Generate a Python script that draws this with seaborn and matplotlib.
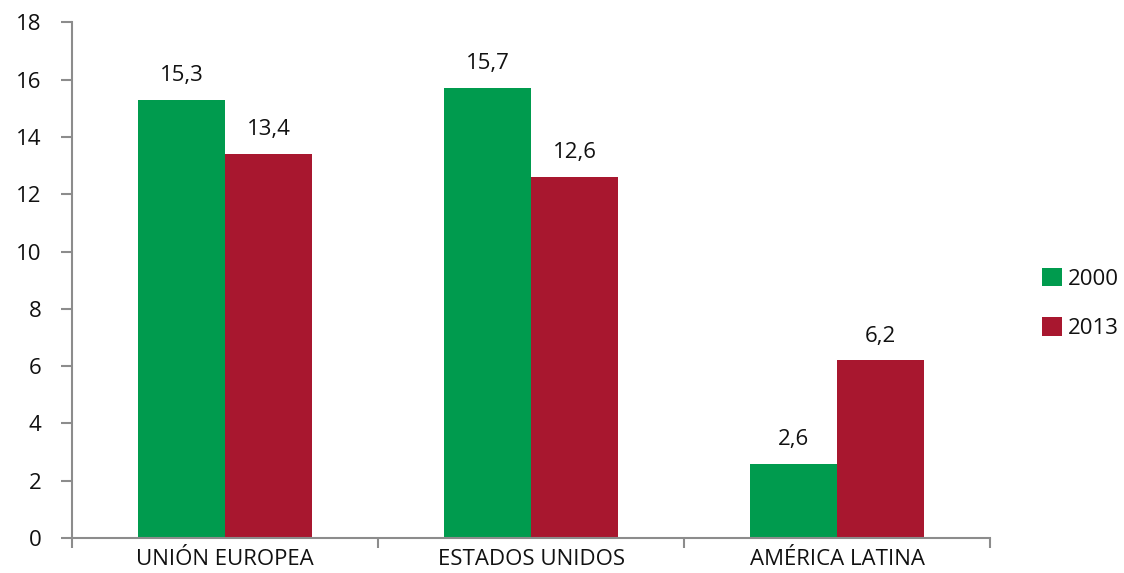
import pandas as pd
import numpy as np
import matplotlib.pyplot as plt
import seaborn as sns

# --- DATOS ---
regiones = ["UNIÓN EUROPEA", "ESTADOS UNIDOS", "AMÉRICA LATINA"]
anios = ["2000", "2013"]
valores_2000 = [15.3, 15.7, 2.6]
valores_2013 = [13.4, 12.6, 6.2]
colores = ["#009B4E", "#A8172F"]

df = pd.DataFrame({
    "region": regiones * 2,
    "anio": [anios[0]] * 3 + [anios[1]] * 3,
    "valor": valores_2000 + valores_2013,
})

sns.set_style("white")
plt.rcParams['font.family'] = ['Open Sans', 'DejaVu Sans']
plt.rcParams['text.color'] = '#111111'

fig = plt.figure(figsize=(11.24, 5.73), dpi=100)
ax = fig.add_axes([0.064, 0.061, 0.817, 0.9])

sns.barplot(data=df, x="region", y="valor", hue="anio", palette=colores,
            width=0.57, saturation=1, ax=ax, errorbar=None, linewidth=0)

# etiquetas de valor
for cont in ax.containers:
    ax.bar_label(cont, labels=[f"{v:.1f}".replace(".", ",") for v in cont.datavalues],
                 padding=10, fontsize=16, fontweight="medium")

ax.set_ylim(0, 18)
ax.set_yticks(np.arange(0, 19, 2))
ax.set_xlim(-0.5, 2.5)
ax.set_xlabel("")
ax.set_ylabel("")

for s in ["top", "right"]:
    ax.spines[s].set_visible(False)
for s in ["left", "bottom"]:
    ax.spines[s].set_color("#8c8c8c")
    ax.spines[s].set_linewidth(1.5)

ax.tick_params(axis="y", length=8, width=1.5, color="#8c8c8c", labelsize=16,
               labelcolor="#111111", pad=14, left=True)
ax.tick_params(axis="x", which="major", length=0, labelsize=16, labelcolor="#111111", pad=8)
ax.set_xticks([-0.5, 0.5, 1.5, 2.5], minor=True)
ax.tick_params(axis="x", which="minor", length=7, width=1.5, color="#8c8c8c", bottom=True)
for lbl in ax.get_xticklabels() + ax.get_yticklabels():
    lbl.set_fontweight("medium")

leg = ax.legend(loc="center left", bbox_to_anchor=(1.056, 0.455), frameon=False,
                borderpad=0, borderaxespad=0,
                handlelength=0.9, handleheight=0.9, handletextpad=0.3,
                labelspacing=1.25, prop={"weight": "medium", "size": 16})

fig.savefig("out.png", dpi=100)
